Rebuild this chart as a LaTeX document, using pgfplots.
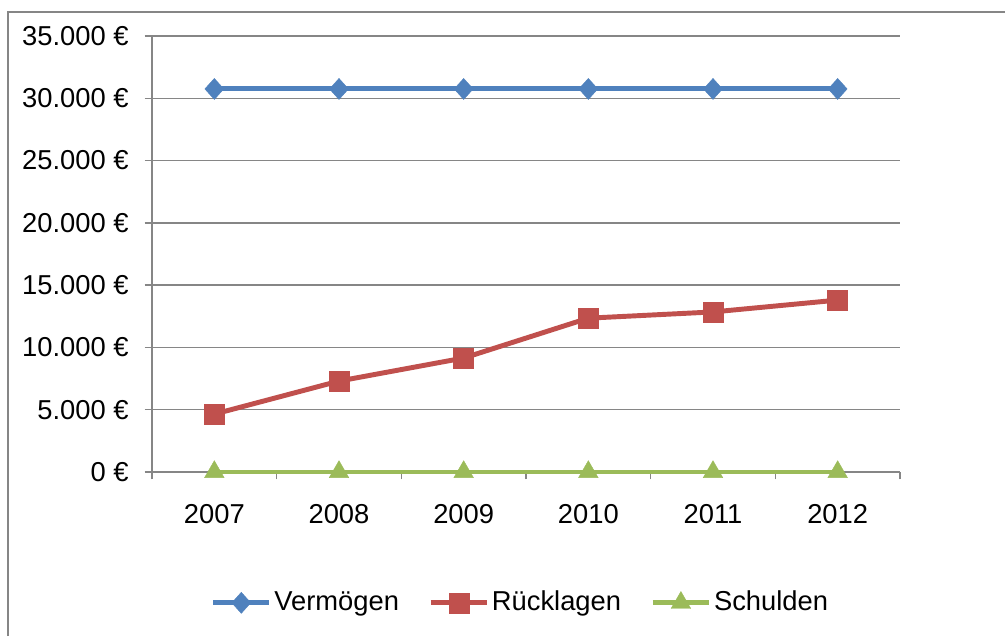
\documentclass[border=0pt]{standalone}
\usepackage{pgfplots}
\pgfplotsset{compat=1.18}
\usepackage{fontspec}
\setmainfont{Liberation Sans}
\definecolor{cblue}{HTML}{4F81BD}
\definecolor{cred}{HTML}{C0504D}
\definecolor{cgreen}{HTML}{9BBB59}
\definecolor{cgrid}{HTML}{868686}
\begin{document}
\fontsize{20.5}{24}\selectfont
\begin{tikzpicture}
\useasboundingbox (0,0) rectangle (1005*0.75pt,-636*0.75pt);
\draw[cgrid, line width=1.5pt] (8*0.75pt,-636*0.75pt) -- (8*0.75pt,-12*0.75pt) -- (1005*0.75pt,-12*0.75pt);
\begin{axis}[
  at={(152*0.75pt,-472*0.75pt)}, anchor=south west,
  scale only axis, width=748*0.75pt, height=436*0.75pt,
  xmin=-0.5, xmax=5.5, ymin=0, ymax=35000,
  scaled y ticks=false,
  axis lines*=left,
  axis line style={cgrid, line width=1.1pt},
  xtick={-0.5,0.5,1.5,2.5,3.5,4.5,5.5},
  xticklabels={},
  xtick style={cgrid, line width=1.1pt},
  extra x ticks={0,1,2,3,4,5},
  extra x tick labels={2007,2008,2009,2010,2011,2012},
  extra x tick style={major tick length=0pt, tick style={draw=none},
    x tick label style={yshift=-17pt}},
  ytick={0,5000,...,35000},
  yticklabels={0 €,5.000 €,10.000 €,15.000 €,20.000 €,25.000 €,30.000 €,35.000 €},
  y tick label style={xshift=-5pt},
  ytick style={cgrid, line width=1.1pt},
  tick align=outside, major tick length=5.5pt,
  ymajorgrids, grid style={cgrid, line width=1.1pt},
  tick label style={font=\fontsize{20.5}{24}\selectfont},
  legend style={at={(0.493,-0.30)}, anchor=center, draw=none, fill=none,
    legend columns=3, font=\fontsize{20.5}{24}\selectfont,
    /tikz/every even column/.append style={column sep=20pt},
    nodes={inner xsep=2pt}},
  legend image code/.code={\draw[#1] (0pt,0pt) -- (42pt,0pt); \draw[#1, mark repeat=2, mark phase=2] plot coordinates {(0pt,0pt) (21pt,0pt) (42pt,0pt)};},
  clip=false,
]
\addplot[cblue, line width=3.7pt, mark=diamond*, mark size=7.9pt, mark options={solid, line width=0.3pt, fill=cblue, xscale=1.2}]
  coordinates {(0,30750) (1,30750) (2,30750) (3,30750) (4,30750) (5,30750)};
\addlegendentry{Vermögen}
\addplot[cred, line width=3.7pt, mark=square*, mark size=7.5pt, mark options={solid, line width=0.3pt, fill=cred}]
  coordinates {(0,4650) (1,7300) (2,9150) (3,12350) (4,12850) (5,13800)};
\addlegendentry{Rücklagen}
\addplot[cgreen, line width=3.7pt, mark=triangle*, mark size=8.5pt, mark options={solid, line width=0.3pt, fill=cgreen}]
  coordinates {(0,0) (1,0) (2,0) (3,0) (4,0) (5,0)};
\addlegendentry{Schulden}
\end{axis}
\end{tikzpicture}
\end{document}
